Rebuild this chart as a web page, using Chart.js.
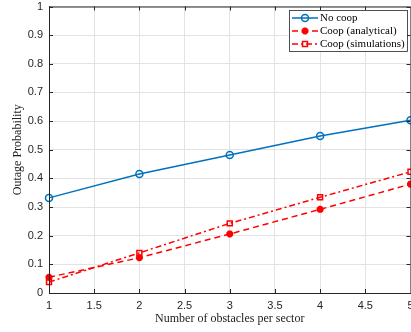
<!DOCTYPE html>
<html>
<head>
<meta charset="utf-8">
<script src="https://cdn.jsdelivr.net/npm/chart.js@4"></script>
<style>
    html, body { margin: 0; padding: 0; background: #fff; overflow: hidden; }
    #wrap { width: 411px; height: 332px; overflow: hidden; }
</style>
</head>
<body>
<div id="wrap"><canvas id="chart" width="417" height="332"></canvas></div>
<script>
const obstacles = [1, 2, 3, 4, 5];
const noCoop = [0.332, 0.415, 0.482, 0.548, 0.603];
const coopAnalytical = [0.055, 0.123, 0.206, 0.292, 0.380];
const coopSimulations = [0.038, 0.140, 0.243, 0.334, 0.423];
const xTicks = [1, 1.5, 2, 2.5, 3, 3.5, 4, 4.5, 5];
const yTicks = [0, 0.1, 0.2, 0.3, 0.4, 0.5, 0.6, 0.7, 0.8, 0.9, 1];

const blue = '#0072BD';
const red = '#FF0000';
const axisColor = '#262626';

function toPoints(values) {
    return obstacles.map((x, i) => ({ x: x, y: values[i] }));
}

// box around the axes, inward ticks and the legend
const matlabAxes = {
    id: 'matlabAxes',
    afterDraw(chart) {
        const c = chart.ctx;
        const a = chart.chartArea;
        const xs = chart.scales.x;
        const ys = chart.scales.y;
        c.save();
        c.strokeStyle = axisColor;
        c.lineWidth = 1;
        c.beginPath();
        c.rect(a.left + 0.5, a.top + 0.5, a.right - a.left, a.bottom - a.top);
        c.stroke();
        c.beginPath();
        xTicks.forEach(v => {
            const px = Math.round(xs.getPixelForValue(v)) + 0.5;
            c.moveTo(px, a.bottom); c.lineTo(px, a.bottom - 4);
            c.moveTo(px, a.top); c.lineTo(px, a.top + 4);
        });
        yTicks.forEach(v => {
            const py = Math.round(ys.getPixelForValue(v)) + 0.5;
            c.moveTo(a.left, py); c.lineTo(a.left + 4, py);
            c.moveTo(a.right, py); c.lineTo(a.right - 4, py);
        });
        c.stroke();

        // legend
        const lx = 289, ly = 10, lw = 118, lh = 41;
        c.fillStyle = '#fff';
        c.fillRect(lx, ly, lw, lh);
        c.strokeStyle = axisColor;
        c.lineWidth = 0.8;
        c.strokeRect(lx + 0.5, ly + 0.5, lw, lh);
        c.font = '11px "Liberation Serif", serif';
        c.textBaseline = 'middle';
        chart.data.datasets.forEach((ds, i) => {
            const y = ly + 8 + i * 13;
            c.strokeStyle = ds.borderColor;
            c.lineWidth = 1.5;
            c.setLineDash(ds.borderDash || []);
            c.beginPath();
            c.moveTo(lx + 3, y); c.lineTo(lx + 29, y);
            c.stroke();
            c.setLineDash([]);
            c.strokeStyle = ds.pointBorderColor;
            c.fillStyle = ds.pointBackgroundColor;
            c.lineWidth = ds.pointBorderWidth;
            Chart.helpers.drawPoint(c, {
                pointStyle: ds.pointStyle,
                radius: ds.pointRadius,
                borderWidth: ds.pointBorderWidth
            }, lx + 16, y);
            c.fillStyle = '#000';
            c.fillText(ds.label, lx + 31, y + 0.5);
        });
        c.restore();
    }
};

new Chart(document.getElementById('chart'), {
    type: 'line',
    data: {
        datasets: [{
            label: 'No coop',
            data: toPoints(noCoop),
            borderColor: blue,
            backgroundColor: 'rgba(0,0,0,0)',
            borderWidth: 1.5,
            pointStyle: 'circle',
            pointRadius: 3.5,
            pointBorderWidth: 1.5,
            pointBorderColor: blue,
            pointBackgroundColor: 'rgba(255,255,255,0)'
        }, {
            label: 'Coop (analytical)',
            data: toPoints(coopAnalytical),
            borderColor: red,
            backgroundColor: red,
            borderWidth: 1.5,
            borderDash: [6, 4],
            pointStyle: 'star',
            pointRadius: 3.5,
            pointBorderWidth: 2.5,
            pointBorderColor: red,
            pointBackgroundColor: red
        }, {
            label: 'Coop (simulations)',
            data: toPoints(coopSimulations),
            borderColor: red,
            backgroundColor: 'rgba(0,0,0,0)',
            borderWidth: 1.5,
            borderDash: [6, 3, 2, 3],
            pointStyle: 'rect',
            pointRadius: 3.5,
            pointBorderWidth: 1.5,
            pointBorderColor: red,
            pointBackgroundColor: 'rgba(255,255,255,0)'
        }]
    },
    options: {
        responsive: false,
        animation: false,
        clip: false,
        layout: { padding: { top: 6, right: 1, left: 0, bottom: 0 } },
        plugins: {
            legend: { display: false },
            tooltip: { enabled: false }
        },
        scales: {
            x: {
                type: 'linear',
                min: 1,
                max: 5,
                afterBuildTicks(scale) {
                    scale.ticks = xTicks.map(v => ({ value: v }));
                },
                afterFit(scale) {
                    scale.paddingLeft = 0;
                    scale.paddingRight = 0;
                    scale.height = 39;
                },
                grid: { color: '#e3e3e3', drawTicks: false },
                border: { color: axisColor },
                ticks: {
                    color: axisColor,
                    padding: 6,
                    maxRotation: 0,
                    callback: v => String(v),
                    font: { family: '"Liberation Sans", Arial, sans-serif', size: 11 }
                },
                title: {
                    display: true,
                    text: 'Number of obstacles per sector',
                    color: '#222',
                    padding: { top: 1, bottom: 6 },
                    font: { family: '"Liberation Serif", serif', size: 12 }
                }
            },
            y: {
                min: 0,
                max: 1,
                afterBuildTicks(scale) {
                    scale.ticks = yTicks.map(v => ({ value: v }));
                },
                afterFit(scale) {
                    scale.paddingTop = 0;
                    scale.paddingBottom = 0;
                    scale.width = 49;
                },
                grid: { color: '#e3e3e3', drawTicks: false },
                border: { color: axisColor },
                ticks: {
                    color: axisColor,
                    padding: 6,
                    callback: v => String(v),
                    font: { family: '"Liberation Sans", Arial, sans-serif', size: 11 }
                },
                title: {
                    display: true,
                    text: 'Outage Probability',
                    color: '#222',
                    padding: { top: 11, bottom: 4 },
                    font: { family: '"Liberation Serif", serif', size: 12 }
                }
            }
        }
    },
    plugins: [matlabAxes]
});
</script>
</body>
</html>
